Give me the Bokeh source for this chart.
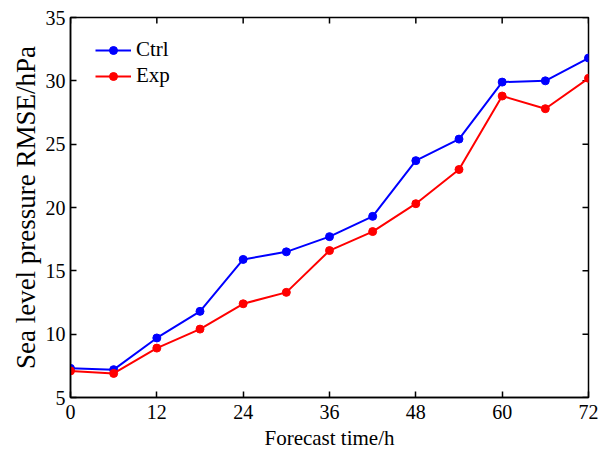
from bokeh.plotting import figure
from bokeh.models import FixedTicker, Legend, LegendItem, Range1d
from bokeh.embed import file_html
from bokeh.resources import INLINE

hours = [0, 6, 12, 18, 24, 30, 36, 42, 48, 54, 60, 66, 72]
ctrl = [7.3, 7.2, 9.7, 11.8, 15.9, 16.5, 17.7, 19.3, 23.7, 25.4, 29.9, 30.0, 31.8]
exp = [7.1, 6.9, 8.9, 10.4, 12.4, 13.3, 16.6, 18.1, 20.3, 23.0, 28.8, 27.8, 30.2]
x_ticks = [0, 12, 24, 36, 48, 60, 72]
y_ticks = [5, 10, 15, 20, 25, 30, 35]

FONT = "Liberation Serif"
X0, X1, Y0, Y1 = 0, 72, 5, 35

W, H = 600, 452
BL, BR, BT, BB = 70, 12, 17, 54
p = figure(width=W, height=H, output_backend="svg", toolbar_location=None,
           x_range=Range1d(X0, X1), y_range=Range1d(Y0, Y1),
           min_border_left=BL, min_border_right=BR, min_border_top=BT, min_border_bottom=BB)
p.xgrid.visible = False
p.ygrid.visible = False
p.outline_line_color = "black"
p.outline_line_width = 1.5

for ax in (p.xaxis[0], p.yaxis[0]):
    ax.major_tick_in = 6
    ax.major_tick_out = 0
    ax.minor_tick_line_color = None
    ax.axis_line_color = "black"
    ax.axis_line_width = 1.5
    ax.major_tick_line_width = 1.5
    ax.major_label_text_font = FONT
    ax.major_label_text_font_size = "20px"
    ax.major_label_text_color = "black"
    ax.axis_label_text_font = FONT
    ax.axis_label_text_font_style = "normal"
    ax.axis_label_text_color = "black"

p.xaxis[0].ticker = FixedTicker(ticks=x_ticks)
p.yaxis[0].ticker = FixedTicker(ticks=y_ticks)
p.xaxis[0].axis_label = "Forecast time/h"
p.yaxis[0].axis_label = "Sea level pressure RMSE/hPa"
p.xaxis[0].axis_label_text_font_size = "21px"
p.yaxis[0].axis_label_text_font_size = "27px"
p.xaxis[0].major_label_standoff = 7
p.yaxis[0].major_label_standoff = 5
p.xaxis[0].axis_label_standoff = 4
p.yaxis[0].axis_label_standoff = 2

# mirrored inward ticks on the top and right frame edges
fw = W - BL - BR
fh = H - BT - BB
tick_dx = 6 * (X1 - X0) / fw
tick_dy = 6 * (Y1 - Y0) / fh
p.segment(x0=x_ticks, y0=[Y1] * len(x_ticks), x1=x_ticks, y1=[Y1 - tick_dy] * len(x_ticks),
          line_color="black", line_width=1.5)
p.segment(x0=[X1] * len(y_ticks), y0=y_ticks, x1=[X1 - tick_dx] * len(y_ticks), y1=y_ticks,
          line_color="black", line_width=1.5)

l1 = p.line(hours, ctrl, line_color="#0000ff", line_width=2)
c1 = p.scatter(hours, ctrl, marker="circle", size=8, fill_color="#0000ff", line_color="#0000ff")
l2 = p.line(hours, exp, line_color="#ff0000", line_width=2)
c2 = p.scatter(hours, exp, marker="circle", size=8, fill_color="#ff0000", line_color="#ff0000")

legend = Legend(items=[LegendItem(label="Ctrl", renderers=[l1, c1]),
                       LegendItem(label="Exp", renderers=[l2, c2])],
                location=(25, fh - 19 - 53), border_line_color=None, background_fill_alpha=0,
                label_text_font=FONT, label_text_font_size="21px", label_text_color="black",
                glyph_width=36, glyph_height=20, label_height=20, label_standoff=5,
                spacing=1, margin=0, padding=0)
p.add_layout(legend)

open("out.html", "w").write(file_html(p, INLINE))
